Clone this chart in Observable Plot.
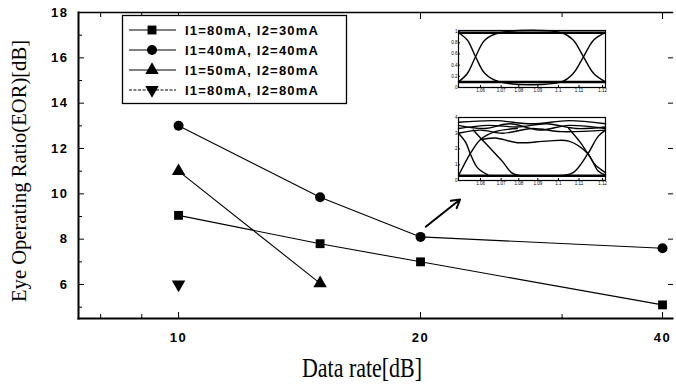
<!DOCTYPE html>
<html><head><meta charset="utf-8">
<script src="https://cdn.jsdelivr.net/npm/d3@7"></script>
<script src="https://cdn.jsdelivr.net/npm/@observablehq/plot@0.6"></script>
<style>
body{margin:0;background:#fff;}
#chart{position:relative;width:676px;height:385px;overflow:hidden;background:#fff;}
.inset{position:absolute;}
</style></head><body><div id="chart"></div>
<script>
// ---- data ----
const seriesNames = ["I1=80mA, I2=30mA", "I1=40mA, I2=40mA", "I1=50mA, I2=80mA", "I1=80mA, I2=80mA"];
const seriesSymbols = ["square", "circle", "triangle", "triangle"];
const seriesRotate = [0, 0, 0, 180];
const rateA = [10, 15, 20, 40];
const eorA = [9.05, 7.8, 7.0, 5.1];
const rateB = [10, 15, 20, 40];
const eorB = [13.0, 9.85, 8.1, 7.6];
const rateC = [10, 15];
const eorC = [11.0, 6.05];
const rateD = [10];
const eorD = [6.0];
const xTicks = [10, 20, 40];
const xMinorTicks = [8, 9, 30];
const yTicks = [6, 8, 10, 12, 14, 16, 18];
const yMinorTicks = [5, 7, 9, 11, 13, 15, 17];
const arrowStart = [20.3, 8.55];
const arrowEnd = [22.4, 9.75];
const xTitle = "Data rate[dB]";
const yTitle = "Eye Operating Ratio(EOR)[dB]";

// inset eye diagrams (inset units: x 0..10)
const eye1Rise = [[0,0.1],[0.6,0.25],[1.16,0.55],[1.8,0.85],[2.8,0.98],[7,0.98],[7.8,0.85],[8.5,0.55],[9.2,0.25],[10,0.1]];
const eye1Fall = [[0,0.98],[0.6,0.85],[1.16,0.55],[1.8,0.25],[2.8,0.1],[7,0.1],[7.8,0.25],[8.5,0.55],[9.2,0.85],[10,0.98]];
const eye1Rails = [0.1, 0.98];
const eye1YLabels = [[0,"0"],[0.2,"0.2"],[0.4,"0.4"],[0.6,"0.6"],[0.8,"0.8"],[1,"1"]];
const eyeXLabels = [[1.5,"1.06"],[2.9,"1.07"],[4.1,"1.08"],[5.4,"1.09"],[6.8,"1.1"],[8.2,"1.11"],[9.8,"1.12"]];
const eye2Curves = [
  [[0,3.3],[2,3.5],[4,3.4],[6,3.6],[8,3.3],[10,3.4]],
  [[0,3.0],[1.5,3.2],[3,3.0],[5,3.3],[7,3.1],[10,3.2]],
  [[0,3.7],[2.5,3.8],[5,3.6],[7.5,3.8],[10,3.6]],
  [[0,3.5],[1.8,3.3],[3.5,3.6],[5.5,3.2],[7.5,3.5],[10,3.3]],
  [[1.5,2.6],[2.5,2.7],[4,2.4],[6,2.5],[7.5,2.5],[8.8,1.7],[9.5,0.6],[10,0.35]],
  [[0,0.3],[0.8,1.7],[1.5,2.6],[2.5,3.1],[4,3.3]],
  [[0,3.0],[0.5,2.4],[0.8,1.7],[1.3,0.8],[2,0.35]],
  [[1,3.2],[2,2.2],[3,1.2],[3.6,0.5],[4.2,0.3]],
  [[6.8,0.3],[7.8,0.5],[8.8,1.7],[9.5,2.8],[10,3.2]],
  [[7.5,3.3],[8.3,2.4],[8.8,1.7],[9.3,1.0],[10,0.5]]
];
const eye2Rails = [0.3];
const eye2YLabels = [[0,"0"],[1,"1"],[2,"2"],[3,"3"],[4,"4"]];

// ---- build rows ----
const rows = [];
[[rateA, eorA], [rateB, eorB], [rateC, eorC], [rateD, eorD]].forEach(([xs, ys], i) => {
  xs.forEach((x, j) => rows.push({rate: x, eor: ys[j], series: seriesNames[i], idx: i}));
});

const tickFont = {fontSize: 13, fontWeight: "bold"};
const chart = Plot.plot({
  width: 676, height: 385,
  marginLeft: 78, marginRight: 4, marginTop: 12, marginBottom: 67,
  style: {fontFamily: "'Liberation Sans', Arial, sans-serif", background: "#fff", color: "#000"},
  x: {type: "log", domain: [7.508, 41.16]},
  y: {domain: [4.5, 18]},
  marks: [
    Plot.frame({anchor: "left", strokeWidth: 2}),
    Plot.frame({anchor: "bottom", strokeWidth: 2}),
    Plot.frame({anchor: "top", strokeWidth: 1.3}),
    Plot.axisX(xTicks, {anchor: "bottom", tickSize: -6, tickPadding: 20, tickFormat: d => String(d), label: null, ...tickFont}),
    Plot.axisX(xMinorTicks, {anchor: "bottom", tickSize: -4, tickFormat: () => "", label: null}),
    Plot.axisX(xTicks, {anchor: "top", tickSize: -6, tickFormat: () => "", label: null}),
    Plot.axisX(xMinorTicks, {anchor: "top", tickSize: -4, tickFormat: () => "", label: null}),
    Plot.axisY(yTicks, {anchor: "left", tickSize: -6, tickPadding: 16, tickFormat: d => String(d), label: null, ...tickFont}),
    Plot.axisY(yMinorTicks, {anchor: "left", tickSize: -4, tickFormat: () => "", label: null}),
    Plot.axisY(yTicks, {anchor: "right", tickSize: -5, tickFormat: () => "", label: null}),
    Plot.line(rows, {x: "rate", y: "eor", z: "series", stroke: "#000", strokeWidth: 1.1}),
    ...seriesNames.map((name, i) => Plot.dot(rows.filter(d => d.idx === i), {
      x: "rate", y: "eor", symbol: seriesSymbols[i], rotate: seriesRotate[i], r: 5, fill: "#000", stroke: "none"
    })),
    Plot.arrow([{x1: arrowStart[0], y1: arrowStart[1], x2: arrowEnd[0], y2: arrowEnd[1]}],
      {x1: "x1", y1: "y1", x2: "x2", y2: "y2", stroke: "#000", strokeWidth: 2, headLength: 7})
  ]
});
document.getElementById("chart").appendChild(chart);

const svg = d3.select(chart);
svg.selectAll("g[aria-label='x-axis tick label'] text, g[aria-label='y-axis tick label'] text").style("letter-spacing", "1.5px");

// titles
svg.append("text").attr("x", 362).attr("y", 377).attr("text-anchor", "middle")
  .attr("font-family", "'Liberation Serif', 'Times New Roman', serif").attr("font-size", 28)
  .attr("textLength", 120).attr("lengthAdjust", "spacingAndGlyphs").text(xTitle);
svg.append("text").attr("transform", "translate(26,171) rotate(-90)").attr("text-anchor", "middle")
  .attr("font-family", "'Liberation Serif', 'Times New Roman', serif").attr("font-size", 20.5)
  .attr("textLength", 262).attr("lengthAdjust", "spacingAndGlyphs").text(yTitle);

// legend
const lg = svg.append("g").attr("text-anchor", "start");
lg.append("rect").attr("x", 122.5).attr("y", 15.5).attr("width", 224).attr("height", 88)
  .attr("fill", "#fff").attr("stroke", "#000").attr("stroke-width", 1.3);
seriesNames.forEach((name, i) => {
  const cy = 30 + i * 20;
  lg.append("line").attr("x1", 129).attr("x2", 176).attr("y1", cy).attr("y2", cy)
    .attr("stroke", "#000").attr("stroke-width", 1).attr("stroke-dasharray", i === 3 ? "3,1.5" : null);
  lg.append("path").attr("d", d3.symbol(seriesSymbols[i] === "square" ? d3.symbolSquare : seriesSymbols[i] === "circle" ? d3.symbolCircle : d3.symbolTriangle, 25 * Math.PI)())
    .attr("transform", `translate(152,${cy}) rotate(${seriesRotate[i]})`).attr("fill", "#000");
  lg.append("text").attr("x", 185).attr("y", cy + 5).attr("font-size", 13).attr("font-weight", "bold")
    .attr("text-anchor", "start")
    .attr("font-family", "'Liberation Sans', Arial, sans-serif").style("letter-spacing", "1.2px").text(name);
});

// insets
function eyePlot(curves, rails, yMax, yLabels, left, top, frameH) {
  const data = [];
  curves.forEach((c, k) => c.forEach(([x, y]) => data.push({x, y, k})));
  const p = Plot.plot({
    width: 159, height: frameH + 13,
    marginLeft: 10, marginRight: 2, marginTop: 4, marginBottom: 9,
    style: {fontFamily: "'Liberation Sans', Arial, sans-serif", background: "transparent"},
    x: {domain: [0, 10]},
    y: {domain: [0, yMax]},
    marks: [
      Plot.frame({strokeWidth: 1.2}),
      Plot.axisX(eyeXLabels.map(d => d[0]), {anchor: "bottom", tickSize: -2, tickPadding: 3, fontSize: 4.5,
        tickFormat: v => (eyeXLabels.find(d => d[0] === v) || [0, ""])[1], label: null}),
      Plot.axisY(yLabels.map(d => d[0]), {anchor: "left", tickSize: -2, tickPadding: 3, fontSize: 4.5,
        tickFormat: v => (yLabels.find(d => d[0] === v) || [0, ""])[1], label: null}),
      Plot.ruleY(rails, {stroke: "#000", strokeWidth: 2.5}),
      Plot.line(data, {x: "x", y: "y", z: "k", stroke: "#000", strokeWidth: 1.4, curve: "catmull-rom"})
    ]
  });
  p.classList.add("inset");
  p.style.left = left + "px";
  p.style.top = top + "px";
  document.getElementById("chart").appendChild(p);
}
eyePlot([eye1Rise, eye1Fall], eye1Rails, 1.02, eye1YLabels, 448, 26, 57);
eyePlot(eye2Curves, eye2Rails, 4, eye2YLabels, 448, 113, 63);
</script></body></html>
